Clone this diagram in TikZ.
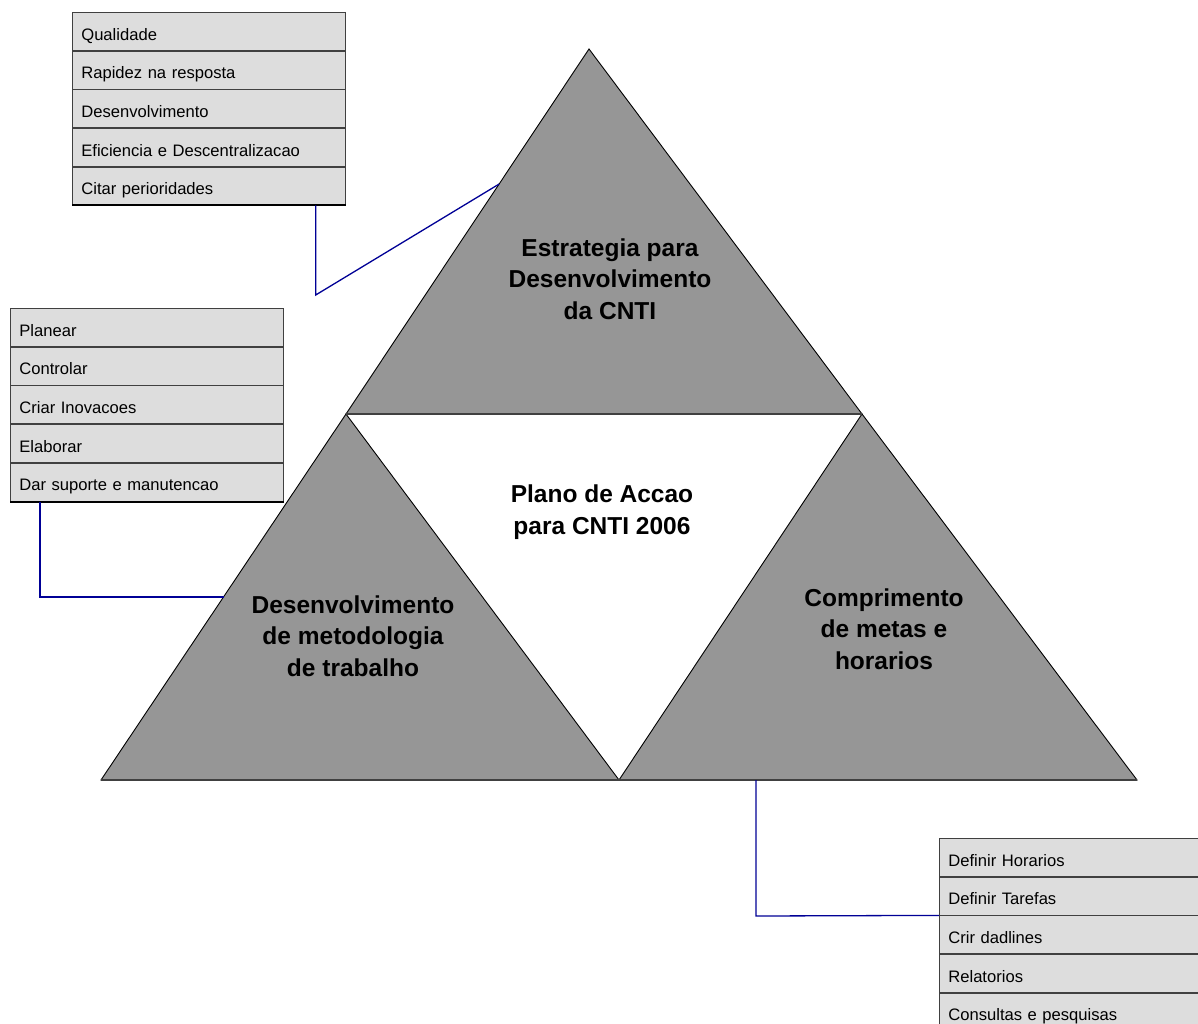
\documentclass[tikz,border=0pt]{standalone}
\usepackage{fontspec}
\setmainfont{Liberation Sans}
\usetikzlibrary{calc}
\definecolor{trigray}{RGB}{150,150,150}
\definecolor{rowgray}{RGB}{221,221,221}
\definecolor{edgegray}{RGB}{64,64,64}
\definecolor{linkblue}{RGB}{0,0,150}
\begin{document}
\begin{tikzpicture}[x=1pt,y=-1pt,
  tri/.style={fill=trigray,draw=black,line width=0.9pt,line join=miter},
  basel/.style={draw=edgegray,line width=2pt},
  rowbox/.style={draw=edgegray,fill=rowgray,line width=0.7pt,anchor=north west,
    minimum width=273pt,minimum height=38pt,text width=255pt,align=left,inner xsep=9pt,
    text height=17.4pt,text depth=0pt,font=\fontsize{16.6}{18}\selectfont},
  title/.style={font=\fontsize{24.5}{31.5}\selectfont\bfseries,align=center},
  link/.style={draw=linkblue,line width=1.3pt}]
\clip (0,0) rectangle (1198,1024);
\fill[white] (0,0) rectangle (1198,1024);
% triangle vertices
\coordinate (TA) at (589,49);
\coordinate (TL) at (346,414);
\coordinate (TR) at (862,414);
\coordinate (LB) at (101,780);
\coordinate (MB) at (619,780);
\coordinate (RB) at (1137,780);
\path[tri] (TA) -- (TL) -- (TR) -- cycle;
\path[tri] (TL) -- (LB) -- (MB) -- cycle;
\path[tri] (TR) -- (MB) -- (RB) -- cycle;
\draw[basel] (TL) -- (TR);
\draw[basel] (LB) -- (MB);
\draw[basel] (MB) -- (RB);
% titles
\node[title] (ttop) at (610,279) {Estrategia para\\Desenvolvimento\\da CNTI};
\node[title] (tmid) at (602,512) {Plano de Accao\\para CNTI 2006};
\node[title] (tleft) at (353,636) {Desenvolvimento\\de metodologia\\de trabalho};
\node[title] (tright) at (884,629) {Comprimento\\de metas e\\horarios};
% top-left list
\node[rowbox] (a1) at (72,12) {Qualidade};
\node[rowbox] (a2) at (a1.south west) {Rapidez na resposta};
\node[rowbox] (a3) at (a2.south west) {Desenvolvimento};
\node[rowbox] (a4) at (a3.south west) {Eficiencia e Descentralizacao};
\node[rowbox] (a5) at (a4.south west) {Citar perioridades};
\draw[edgegray,line width=1.4pt] (a1.north east) -- (a5.south east);
\draw[black,line width=2pt] (a5.south west) -- (a5.south east);
% left list
\node[rowbox] (b1) at (10,308) {Planear};
\node[rowbox] (b2) at (b1.south west) {Controlar};
\node[rowbox] (b3) at (b2.south west) {Criar Inovacoes};
\node[rowbox] (b4) at (b3.south west) {Elaborar};
\node[rowbox] (b5) at (b4.south west) {Dar suporte e manutencao};
\draw[edgegray,line width=1.4pt] (b1.north east) -- (b5.south east);
\draw[black,line width=2pt] (b5.south west) -- (b5.south east);
% bottom-right list
\node[rowbox] (c1) at (939,838) {Definir Horarios};
\node[rowbox] (c2) at (c1.south west) {Definir Tarefas};
\node[rowbox] (c3) at (c2.south west) {Crir dadlines};
\node[rowbox] (c4) at (c3.south west) {Relatorios};
\node[rowbox] (c5) at (c4.south west) {Consultas e pesquisas};
% connectors
\coordinate (ka) at ($(a5.south east)+(-30,0)$);
\coordinate (kb) at ($(b5.south west)+(30,0)$);
\coordinate (pa) at ($(TA)!0.37!(TL)$);
\coordinate (pb) at ($(TL)!0.5!(LB)$);
\coordinate (pc) at (756,780);
\draw[link] (ka) -- (ka |- 0,295) -- (pa);
\draw[link] (kb) -- (kb |- 0,597) -- (pb);
\draw[link] (pc) -- (756,916) -- (c2.south west);
\end{tikzpicture}
\end{document}
